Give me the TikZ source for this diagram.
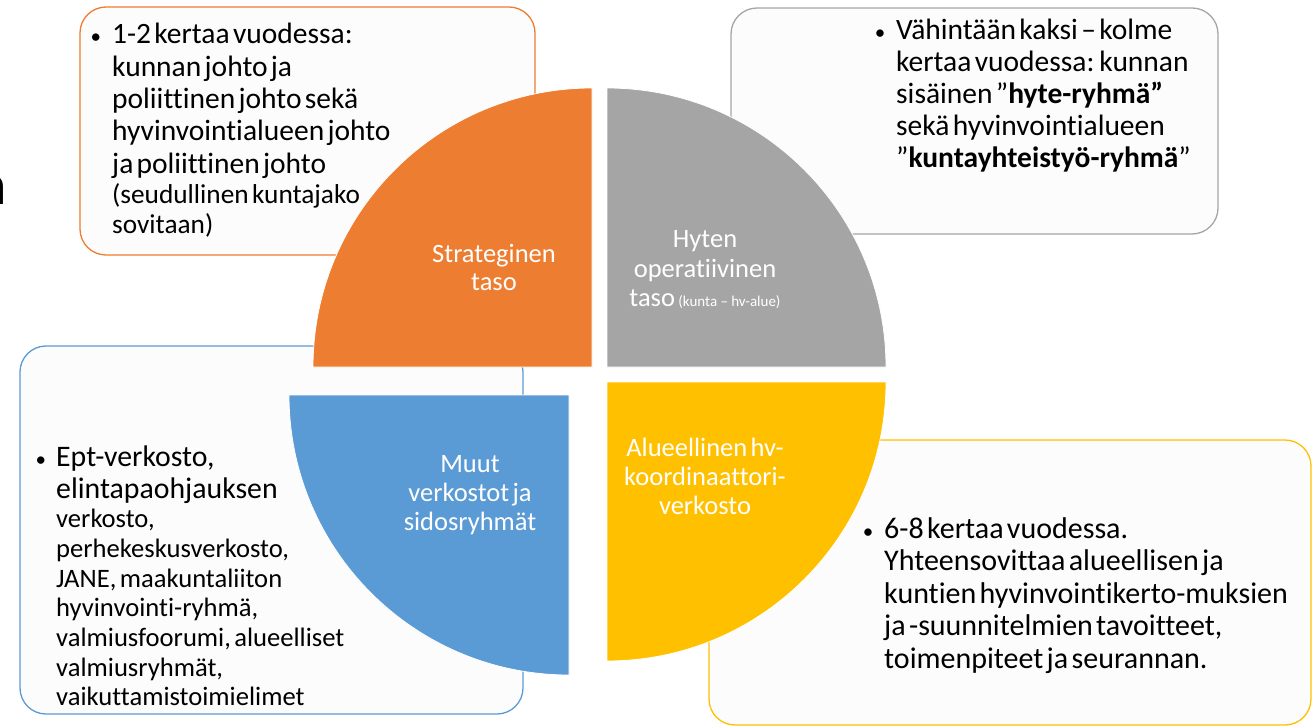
\documentclass[tikz,border=0pt]{standalone}
\usepackage{fontspec}
\setmainfont{Carlito}[Ligatures={TeX,NoCommon}]
\definecolor{qorange}{HTML}{ED7D31}
\definecolor{qgray}{HTML}{A5A5A5}
\definecolor{qyellow}{HTML}{FFC000}
\definecolor{qblue}{HTML}{5B9BD5}
\definecolor{boxfill}{HTML}{FCFCFC}
\newcommand{\bul}[1]{\llap{{\fontsize{21}{21}\selectfont •}\hspace{#1pt}}}
\tikzset{
  infobox/.style={rounded corners=26pt, line width=1.3pt, fill=boxfill},
  quarter/.style={draw=white, line width=0.8pt},
  infotext/.style={anchor=base west, inner sep=0pt, text width=600pt, align=left, text=black},
  qlabel/.style={anchor=base, inner sep=0pt, text width=240pt, align=center, text=white}
}
\begin{document}
\begin{tikzpicture}[x=1pt,y=-1pt]
\useasboundingbox (0,0) rectangle (1312,727);
% background boxes
\draw[infobox, draw=qorange] (80,7) rectangle (535,255);
\draw[infobox, draw=qgray] (731,8) rectangle (1218,234);
\draw[infobox, draw=qblue] (20,346) rectangle (523,714);
\draw[infobox, draw=qyellow] (709,440) rectangle (1311,725);
% quadrants
\fill[quarter, fill=qorange] (592,367) -- (313,367) arc[start angle=180, end angle=270, radius=279] -- cycle;
\fill[quarter, fill=qgray] (607,367) -- (607,88) arc[start angle=270, end angle=360, radius=279] -- cycle;
\fill[quarter, fill=qyellow] (607,382) -- (886,382) arc[start angle=0, end angle=90, radius=279] -- cycle;
\fill[quarter, fill=qblue] (569,395) -- (569,675) arc[start angle=90, end angle=180, radius=280] -- cycle;
% partial letter at left edge
\node (edgen) [anchor=base west, inner sep=0pt, font=\fontsize{58}{58}\selectfont] at (-24,205) {n};
% box texts
\node (tltext) [infotext] at (112,44) {%
{\fontsize{29.5}{32.3}\selectfont\bul{11}1-2 kertaa vuodessa:\\ kunnan johto ja\\ poliittinen johto sekä\\ hyvinvointialueen johto\\ ja poliittinen johto\par}%
{\fontsize{27.3}{30.2}\selectfont (seudullinen kuntajako\\ sovitaan)\par}};
\node (trtext) [infotext] at (896,40) {%
{\fontsize{29.5}{31.8}\selectfont\bul{11}Vähintään kaksi – kolme\\ kertaa vuodessa: kunnan\\ sisäinen ”\textbf{hyte-ryhmä”}\\ sekä hyvinvointialueen\\ ”\textbf{kuntayhteistyö-ryhmä}”\par}};
\node (bltext) [infotext] at (56,466) {%
{\fontsize{29.8}{32}\selectfont\bul{10}Ept-verkosto,\\ elintapaohjauksen\par}%
{\fontsize{26.6}{29.7}\selectfont verkosto,\\ perhekeskusverkosto,\\ JANE, maakuntaliiton\\ hyvinvointi-ryhmä,\\ valmiusfoorumi, alueelliset\\ valmiusryhmät,\\ vaikuttamistoimielimet\par}};
\node (brtext) [infotext] at (884,538) {%
{\fontsize{30}{32.5}\selectfont\bul{11}6-8 kertaa vuodessa.\\ Yhteensovittaa alueellisen ja\\ kuntien hyvinvointikerto-muksien\\ ja -suunnitelmien tavoitteet,\\ toimenpiteet ja seurannan.\par}};
% quadrant labels
\node (lorange) [qlabel] at (494,263) {{\fontsize{26.5}{28}\selectfont Strateginen\\ taso\par}};
\node (lgray) [qlabel] at (705,248) {{\fontsize{26.5}{29.5}\selectfont Hyten\\ operatiivinen\\ taso {\fontsize{15}{15}\selectfont (kunta – hv-alue)}\par}};
\node (lyellow) [qlabel] at (705,456) {{\fontsize{26.5}{29}\selectfont Alueellinen hv-\\ koordinaattori-\\ verkosto\par}};
\node (lblue) [qlabel] at (470,472) {{\fontsize{26.5}{29}\selectfont Muut\\ verkostot ja\\ sidosryhmät\par}};
\end{tikzpicture}
\end{document}
